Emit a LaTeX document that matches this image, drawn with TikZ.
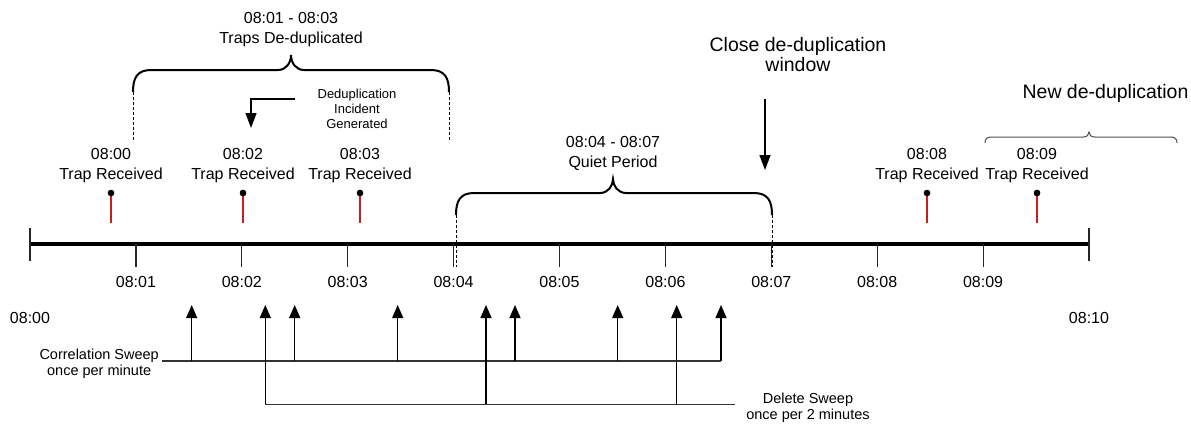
\documentclass[tikz,border=0pt]{standalone}
\usepackage{fontspec}
\setmainfont{Liberation Sans}
\usetikzlibrary{arrows.meta}
\begin{document}
\begin{tikzpicture}[x=1pt,y=-1pt,
  lbl/.style={font=\fontsize{16}{20}\selectfont, inner sep=0pt, align=center},
  biglbl/.style={font=\fontsize{19.5}{20}\selectfont, inner sep=0pt, align=center},
  smalllbl/.style={font=\fontsize{13}{15}\selectfont, inner sep=0pt, align=center},
  sweeplbl/.style={font=\fontsize{14.5}{16.5}\selectfont, inner sep=0pt, align=center},
  axisline/.style={line width=4pt, draw=black},
  tickmark/.style={line width=1.2pt, draw=black!85},
  redline/.style={line width=1.5pt, draw={rgb,255:red,200;green,30;blue,30}},
  trapdot/.style={circle, fill=black, draw=none, inner sep=0pt, minimum size=6.5pt},
  bracepath/.style={line width=2pt, draw=black},
  thinbrace/.style={line width=1pt, draw=black!70},
  dashv/.style={line width=1pt, draw=black, dash pattern=on 3pt off 2pt},
  sweepline/.style={line width=1.3pt, draw=black!80},
  sweeparrow/.style={line width=1.3pt, draw=black, -{Triangle[length=13pt,width=11pt]}},
  callarrow/.style={line width=1.3pt, draw=black, -{Triangle[length=15pt,width=11pt]}}
]
\useasboundingbox (0,0) rectangle (1191,424);

% ---------- time axis ----------
\coordinate (t0) at (30,244);
\coordinate (t10) at (1089,244);
\draw[axisline] (t0) -- (t10);
\coordinate (e0a) at (30,228); \coordinate (e0b) at (30,261);
\coordinate (e10a) at (1089,228); \coordinate (e10b) at (1089,261);
\draw[tickmark] (e0a) -- (e0b);
\draw[tickmark] (e10a) -- (e10b);
\foreach \i in {1,...,9}{
  \coordinate (ka\i) at ({30+105.9*\i},244);
  \coordinate (kb\i) at ({30+105.9*\i},266.7);
  \draw[tickmark] (ka\i) -- (kb\i);
  \node[lbl, anchor=base] (kl\i) at ({30+105.9*\i},287.5) {08:0\i};
}
\node[lbl, anchor=base] (kl0) at (30,323.5) {08:00};
\node[lbl, anchor=base] (kl10) at (1089,323.5) {08:10};

% ---------- traps ----------
\foreach \x/\t [count=\n] in {111/08:00, 243/08:02, 360/08:03, 927/08:08, 1037/08:09}{
  \coordinate (ra\n) at (\x,222.7);
  \node[trapdot] (rd\n) at (\x,193) {};
  \draw[redline] (ra\n) -- (rd\n.center);
  \fill (rd\n) circle (3.2pt);
  \node[lbl] (tl\n) at (\x,165.7) {\t\\Trap Received};
}

% ---------- de-duplicated brace ----------
\node[lbl] (dedupttl) at (291,29.7) {08:01 - 08:03\\Traps De-duplicated};
\coordinate (b1l) at (133,92); \coordinate (b1r) at (449,92);
\coordinate (b1ld) at (133,142); \coordinate (b1rd) at (449,142);
\draw[bracepath] (b1l) .. controls (133,78) and (137,70) .. (151,70) -- (278,70)
  .. controls (286,70) and (291,63) .. (291,55)
  .. controls (291,63) and (296,70) .. (304,70) -- (431,70)
  .. controls (445,70) and (449,78) .. (b1r);
\draw[dashv] (b1l) -- (b1ld);
\draw[dashv] (b1r) -- (b1rd);

% ---------- deduplication incident ----------
\node[smalllbl] (incident) at (357,109) {Deduplication\\Incident\\Generated};
\coordinate (incfrom) at (295,99);
\coordinate (incto) at (251,128);
\draw[callarrow] (incfrom) -| (incto);

% ---------- quiet period ----------
\node[lbl] (quiet) at (613,153.7) {08:04 - 08:07\\Quiet Period};
\coordinate (b2l) at (456,215); \coordinate (b2r) at (772,215);
\coordinate (b2ld) at (456,267); \coordinate (b2rd) at (772,267);
\draw[bracepath] (b2l) .. controls (456,201) and (460,193) .. (474,193) -- (600,193)
  .. controls (608,193) and (613,186) .. (613,179)
  .. controls (613,186) and (618,193) .. (626,193) -- (754,193)
  .. controls (768,193) and (772,201) .. (b2r);
\draw[dashv] (b2l) -- (b2ld);
\draw[dashv] (b2r) -- (b2rd);

% ---------- close window ----------
\node[biglbl] (close) at (798,54.9) {Close de-duplication\\window};
\coordinate (closefrom) at (765,99);
\coordinate (closeto) at (765,170);
\draw[callarrow] (closefrom) -- (closeto);

% ---------- new de-duplication ----------
\node[biglbl, anchor=base] (newdedup) at (1105.5,98) {New de-duplication};
\coordinate (b3l) at (985,143); \coordinate (b3r) at (1177,143);
\draw[thinbrace] (b3l) .. controls (985,139) and (987,137) .. (991,137) -- (1083,137)
  .. controls (1087,137) and (1089,135) .. (1089,132)
  .. controls (1089,135) and (1091,137) .. (1095,137) -- (1171,137)
  .. controls (1175,137) and (1177,139) .. (b3r);

% ---------- correlation sweep ----------
\node[sweeplbl, anchor=east] (corr) at (159,363.9) {Correlation Sweep\\once per minute};
\coordinate (corrstart) at (162,361);
\coordinate (corrend) at (721,361);
\draw[sweepline] (corrstart) -- (corrend);
\foreach \x [count=\n] in {191.7, 294.7, 397.7, 515, 617.7, 721}{
  \coordinate (cs\n) at (\x,361);
  \coordinate (ct\n) at (\x,305);
  \draw[sweeparrow] (cs\n) -- (ct\n);
}

% ---------- delete sweep ----------
\node[sweeplbl] (del) at (808,407.5) {Delete Sweep\\once per 2 minutes};
\coordinate (delstart) at (265.3,404.3);
\coordinate (delend) at (735,404.3);
\draw[sweepline] (delstart) -- (delend);
\foreach \x [count=\n] in {265.3, 486, 676.7}{
  \coordinate (ds\n) at (\x,404.3);
  \coordinate (dt\n) at (\x,305);
  \draw[sweeparrow] (ds\n) -- (dt\n);
}
\end{tikzpicture}
\end{document}
